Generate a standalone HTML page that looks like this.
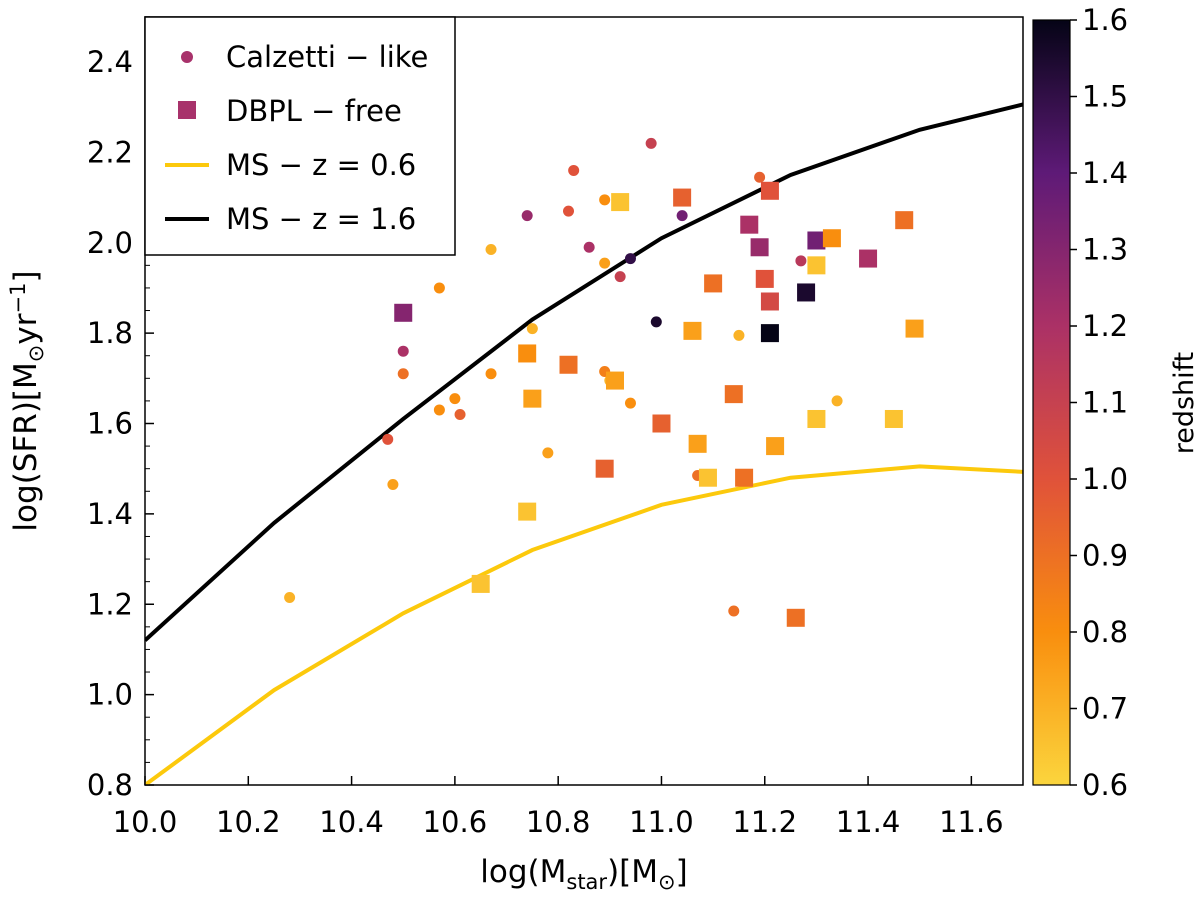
<!DOCTYPE html>
<html><head><meta charset="utf-8"><style>
body{margin:0;background:#fff;}
svg text{font-family:"DejaVu Sans","Liberation Sans",sans-serif;fill:#000;}
</style></head><body>
<svg id="chart" width="1200" height="897" xmlns="http://www.w3.org/2000/svg">
<defs>
<clipPath id="clip"><rect x="145" y="17" width="878" height="768"/></clipPath>
<linearGradient id="cbg" x1="0" y1="1" x2="0" y2="0">
<stop offset="0" stop-color="#fbd53d"/><stop offset="0.2" stop-color="#f98e0e"/><stop offset="0.4" stop-color="#e0523a"/><stop offset="0.6" stop-color="#ab3166"/><stop offset="0.8" stop-color="#5e1a77"/><stop offset="1" stop-color="#050416"/>
</linearGradient>
</defs>
<g id="grid"></g>
<g id="lines" clip-path="url(#clip)"></g>
<g id="pts" clip-path="url(#clip)"></g>
<rect x="145" y="17" width="878" height="768" fill="none" stroke="#000" stroke-width="1.5"/>
<g>
<rect x="145" y="17" width="310" height="238" fill="#fff" stroke="#000" stroke-width="1.5"/>
<circle cx="187" cy="57" r="6" fill="#a8326b"/>
<text x="226" y="67" font-size="29">Calzetti − like</text>
<rect x="178" y="101" width="18" height="18" fill="#a8326b"/>
<text x="226" y="121" font-size="29">DBPL − free</text>
<line x1="165" y1="165" x2="209" y2="165" stroke="#fcc90c" stroke-width="4"/>
<text x="226" y="175" font-size="29">MS − z = 0.6</text>
<line x1="165" y1="219" x2="209" y2="219" stroke="#000" stroke-width="4"/>
<text x="226" y="229" font-size="29">MS − z = 1.6</text>
</g>
<text x="584" y="882" font-size="31" text-anchor="middle">log(M<tspan font-size="21" dy="7">star</tspan><tspan dy="-7">)[M</tspan><tspan font-size="21" dy="7">⊙</tspan><tspan dy="-7">]</tspan></text>
<text transform="translate(36,401) rotate(-90)" font-size="31" text-anchor="middle">log(SFR)[M<tspan font-size="21" dy="7">⊙</tspan><tspan dy="-7">yr</tspan><tspan font-size="21" dy="-11">−1</tspan><tspan dy="11">]</tspan></text>
<rect x="1033" y="20" width="37" height="765" fill="url(#cbg)" stroke="#000" stroke-width="1.2"/>
<g id="cbticks"></g>
<text transform="translate(1193,403) rotate(-90)" font-size="27" text-anchor="middle">redshift</text>
</svg>
<script>
const xTicks=[10.0,10.2,10.4,10.6,10.8,11.0,11.2,11.4,11.6];
const yTicks=[0.8,1.0,1.2,1.4,1.6,1.8,2.0,2.2,2.4];
const cbTicks=[0.6,0.7,0.8,0.9,1.0,1.1,1.2,1.3,1.4,1.5,1.6];
const msMass=[10.0,10.25,10.5,10.75,11.0,11.25,11.5,11.75];
const msZ16=[1.12,1.38,1.61,1.83,2.01,2.15,2.25,2.32];
const msZ06=[0.80,1.01,1.18,1.32,1.42,1.48,1.505,1.49];
const circX=[10.98,10.83,11.19,10.82,10.74,10.89,11.04,10.86,10.94,10.67,10.89,10.92,11.27,10.57,10.50,10.99,10.75,11.15,10.50,10.67,10.89,10.90,10.60,10.57,10.61,10.94,11.34,10.47,10.78,11.07,10.48,10.28,11.14];
const circY=[2.22,2.16,2.145,2.07,2.06,2.095,2.06,1.99,1.965,1.985,1.955,1.925,1.96,1.90,1.76,1.825,1.81,1.795,1.71,1.71,1.715,1.695,1.655,1.63,1.62,1.645,1.65,1.565,1.535,1.485,1.465,1.215,1.185];
const circZ=[1.1,1.0,0.95,1.0,1.25,0.8,1.35,1.2,1.5,0.7,0.75,1.1,1.15,0.8,1.2,1.55,0.7,0.7,0.9,0.8,0.85,0.7,0.8,0.8,0.95,0.8,0.7,1.0,0.75,0.9,0.75,0.7,0.9];
const sqX=[10.92,11.04,11.21,11.17,11.19,11.30,11.33,11.40,11.47,11.30,10.50,11.20,11.28,11.10,11.21,11.21,11.06,11.49,10.74,10.82,10.91,10.75,11.14,11.00,11.07,11.22,11.30,11.45,10.89,11.09,11.16,10.74,10.65,11.26];
const sqY=[2.09,2.10,2.115,2.04,1.99,2.005,2.01,1.965,2.05,1.95,1.845,1.92,1.89,1.91,1.87,1.80,1.805,1.81,1.755,1.73,1.695,1.655,1.665,1.60,1.555,1.55,1.61,1.61,1.50,1.48,1.48,1.405,1.245,1.17];
const sqZ=[0.65,0.95,1.0,1.2,1.25,1.35,0.8,1.2,0.9,0.65,1.3,1.0,1.55,0.9,1.05,1.6,0.75,0.75,0.8,0.9,0.75,0.75,0.9,0.95,0.75,0.75,0.65,0.65,0.95,0.65,0.9,0.65,0.65,0.9];
const NS="http://www.w3.org/2000/svg";
const X=v=>145+(v-10.0)*878/1.7;
const Y=v=>785-(v-0.8)*(723/1.6);
const CB=v=>785-(v-0.6)*765;
const stops=[[0,[251,213,61]],[0.2,[249,142,14]],[0.4,[224,82,58]],[0.6,[171,49,102]],[0.8,[94,26,119]],[1,[5,4,22]]];
function cmap(z){let t=Math.max(0,Math.min(1,(z-0.6)/1.0));for(let i=1;i<stops.length;i++){if(t<=stops[i][0]){const a=stops[i-1],b=stops[i],f=(t-a[0])/(b[0]-a[0]);return 'rgb('+a[1].map((c,k)=>Math.round(c+(b[1][k]-c)*f)).join(',')+')';}}return 'rgb(5,4,22)';}
function el(t,a,p){const e=document.createElementNS(NS,t);for(const k in a)e.setAttribute(k,a[k]);p.appendChild(e);return e;}
const g=document.getElementById('grid');
xTicks.forEach(v=>{const l=el('line',{x1:X(v),x2:X(v),y1:785,y2:776,stroke:'#000','stroke-width':1.5},g);


const t=el('text',{x:X(v),y:832,'font-size':29,'text-anchor':'middle'},g);t.textContent=v.toFixed(1);

});
yTicks.forEach(v=>{const l=el('line',{x1:145,x2:154,y1:Y(v),y2:Y(v),stroke:'#000','stroke-width':1.5},g);


const t=el('text',{x:133,y:Y(v)+10,'font-size':29,'text-anchor':'end'},g);t.textContent=v.toFixed(1);

});
for(let v=0.85;v<2.5;v+=0.05){if(Math.abs((v*10)%2)<0.01)continue;const l=el('line',{x1:145,x2:150,y1:Y(v),y2:Y(v),stroke:'#000','stroke-width':1},g);

}
const cg=document.getElementById('cbticks');
cbTicks.forEach(v=>{const l=el('line',{x1:1070,x2:1077,y1:CB(v),y2:CB(v),stroke:'#000','stroke-width':1.5},cg);


const t=el('text',{x:1082,y:CB(v)+10,'font-size':29},cg);t.textContent=v.toFixed(1);

});
const lg=document.getElementById('lines');
function line(ys,c,n){const p=el('polyline',{points:msMass.map((m,i)=>X(m)+','+Y(ys[i])).join(' '),fill:'none',stroke:c,'stroke-width':4},lg);

}
line(msZ06,'#fcc90c','ms-line-z06');
line(msZ16,'#000','ms-line-z16');
const pg=document.getElementById('pts');
circX.forEach((x,i)=>{const c=el('circle',{cx:X(x),cy:Y(circY[i]),r:5.5,fill:cmap(circZ[i])},pg);

});
sqX.forEach((x,i)=>{const r=el('rect',{x:X(x)-9,y:Y(sqY[i])-9,width:18,height:18,fill:cmap(sqZ[i])},pg);

});
</script>
</body></html>
